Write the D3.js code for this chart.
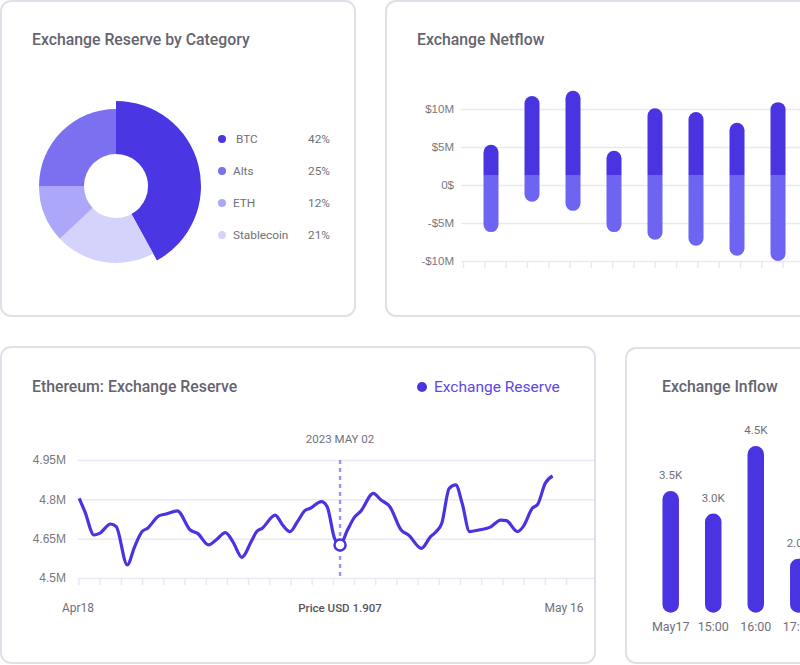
<!DOCTYPE html>
<html>
<head>
<meta charset="utf-8">
<script src="https://cdn.jsdelivr.net/npm/d3@7"></script>
<style>
	body { margin: 0; background: #fff; }
	svg { display: block; font-family: Roboto, "Noto Sans", sans-serif; }
	.title { font-size: 15.8px; fill: #64646f; font-weight: 500; }
	.lbl { font-size: 11.5px; fill: #707078; }
	.axis .domain { display: none; }
	.grid line { stroke: #e9e8f4; stroke-width: 1.5; }
	.grid text { font-size: 11.5px; fill: #777780; }
	.ticks line { stroke: #e9e8f4; stroke-width: 1.5; }
</style>
</head>
<body>
<svg id="chart" width="800" height="665"></svg>
<script>
// --- data ---
var categories = ['BTC', 'Alts', 'ETH', 'Stablecoin'];
var shares = [42, 25, 12, 21];
var pieOrder = ['BTC', 'Stablecoin', 'ETH', 'Alts'];

var netflowIn = [5.3, 11.7, 12.4, 4.5, 10.1, 9.6, 8.2, 10.9];
var netflowOut = [-6.2, -2.2, -3.4, -6.2, -7.2, -8.0, -9.3, -10.0];
var netflowSplit = 1.3;
var netflowTicks = [10, 5, 0, -5, -10];
var netflowTickLabels = ['$10M', '$5M', '0$', '-$5M', '-$10M'];

var reserveT = [0.03, 0.30, 0.73, 0.99, 1.52, 1.78, 2.30, 2.65, 3.00, 3.26, 3.79, 4.13, 4.66, 5.27, 5.62,
	6.14, 6.49, 6.93, 7.28, 7.71, 8.15, 8.41, 8.67, 9.28, 9.63, 9.98, 10.33, 10.68, 10.94, 11.46, 11.73,
	12.08, 12.34, 12.69, 13.04, 13.30, 13.91, 14.26, 14.69, 15.22, 15.57, 16.18, 16.61, 16.88, 17.14,
	17.49, 17.80, 18.10, 18.45, 18.88, 19.40, 19.93, 20.19, 20.71, 20.98, 21.41, 21.67, 22.02, 22.37];
var reserveValues = [4.804, 4.753, 4.664, 4.670, 4.706, 4.696, 4.550, 4.620, 4.677, 4.690, 4.737, 4.744, 4.756, 4.683, 4.670,
	4.626, 4.645, 4.673, 4.639, 4.579, 4.639, 4.677, 4.690, 4.740, 4.702, 4.677, 4.715, 4.757, 4.766, 4.791, 4.772,
	4.651, 4.626, 4.683, 4.734, 4.753, 4.823, 4.798, 4.772, 4.683, 4.664, 4.613, 4.658, 4.677, 4.709,
	4.842, 4.855, 4.785, 4.677, 4.683, 4.693, 4.721, 4.719, 4.677, 4.696, 4.766, 4.782, 4.861, 4.889];
var reserveTicks = [4.95, 4.8, 4.65, 4.5];
var reserveTickLabels = ['4.95M', '4.8M', '4.65M', '4.5M'];
var hoverIndex = 32;

var inflowLabels = ['May17', '15:00', '16:00', '17:00'];
var inflowValues = [3.5, 3.0, 4.5, 2.0];
var inflowValueLabels = ['3.5K', '3.0K', '4.5K', '2.0K'];

// --- colours ---
var dark = '#4a34e2';
var catColor = d3.scaleOrdinal().domain(categories)
	.range(['#4a36e2', '#7a70f0', '#aca7f8', '#d5d3fc']);

var svg = d3.select('#chart');

// cards
function card(x, y, w, h) {
	svg.append('rect')
		.attr('x', x).attr('y', y).attr('width', w).attr('height', h)
		.attr('rx', 10)
		.attr('fill', '#fff')
		.attr('stroke', '#e0e0e8')
		.attr('stroke-width', 2);
}
card(1, 1, 354, 315);
card(386, 1, 430, 315);
card(1, 347, 594, 316);
card(626, 348, 200, 315);

// rounded bar path, cap on top / bottom
function barPath(cx, y0, y1, w, topRound, botRound) {
	var r = w / 2, l = cx - r, rt = cx + r;
	var p = d3.path();
	if (topRound) { p.moveTo(l, y0 + r); p.arc(cx, y0 + r, r, Math.PI, 0); }
	else { p.moveTo(l, y0); p.lineTo(rt, y0); }
	if (botRound) { p.lineTo(rt, y1 - r); p.arc(cx, y1 - r, r, 0, Math.PI); }
	else { p.lineTo(rt, y1); p.lineTo(l, y1); }
	p.closePath();
	return p.toString();
}

// ---------- card 1: donut ----------
svg.append('text').attr('class', 'title').attr('x', 32).attr('y', 45)
	.text('Exchange Reserve by Category');

var pie = d3.pie().sort(null).value(function(d) { return shares[categories.indexOf(d)]; });
var donut = svg.append('g').attr('transform', 'translate(116,186)');
donut.selectAll('path')
	.data(pie(pieOrder))
.enter().append('path')
	.attr('d', function(d) {
		return d3.arc().innerRadius(32).outerRadius(d.data == 'BTC' ? 85 : 77)(d);
	})
	.attr('fill', function(d) { return catColor(d.data); });

var legend = svg.append('g').selectAll('g')
	.data(categories)
.enter().append('g')
	.attr('transform', function(d, i) { return 'translate(0,' + (139 + i * 32) + ')'; });
legend.append('circle').attr('cx', 222).attr('r', 4)
	.attr('fill', function(d) { return catColor(d); });
legend.append('text').attr('class', 'lbl').attr('x', function(d) { return d == 'BTC' ? 236 : 233; })
	.attr('dy', '0.35em').style('font-size', '11.8px').text(function(d) { return d; });
legend.append('text').attr('class', 'lbl').attr('x', 330).attr('text-anchor', 'end')
	.attr('dy', '0.35em').style('font-size', '11.8px').text(function(d, i) { return shares[i] + '%'; });

// ---------- card 2: netflow ----------
svg.append('text').attr('class', 'title').attr('x', 417).attr('y', 45).text('Exchange Netflow');

var yNet = d3.scaleLinear().domain([-10, 10]).range([261, 109]);
var xNet = d3.scalePoint().domain(d3.range(netflowIn.length)).range([491, 778]);

svg.append('g').attr('class', 'axis grid')
	.attr('transform', 'translate(461,0)')
	.call(d3.axisLeft(yNet).tickValues(netflowTicks).tickSize(-360).tickPadding(7)
		.tickFormat(function(d, i) { return netflowTickLabels[i]; }));

var xNetTick = d3.scaleLinear().domain([0, 16]).range([463, 804]);
svg.append('g').attr('class', 'axis ticks')
	.attr('transform', 'translate(0,261)')
	.call(d3.axisBottom(xNetTick).tickValues(d3.range(17)).tickSize(7).tickFormat(''));

var nf = svg.append('g').selectAll('g')
	.data(netflowIn)
.enter().append('g');
nf.append('path')
	.attr('d', function(d, i) { return barPath(xNet(i), yNet(netflowSplit), yNet(netflowOut[i]), 15, false, true); })
	.attr('fill', '#6d65f1');
nf.append('path')
	.attr('d', function(d, i) { return barPath(xNet(i), yNet(d), yNet(netflowSplit), 15, true, false); })
	.attr('fill', dark);

// ---------- card 3: reserve line ----------
svg.append('text').attr('class', 'title').attr('x', 32).attr('y', 392)
	.text('Ethereum: Exchange Reserve');
svg.append('circle').attr('cx', 422).attr('cy', 387).attr('r', 5).attr('fill', dark);
svg.append('text').attr('x', 434).attr('y', 392)
	.style('font-size', '15.5px').style('fill', '#5a48e6')
	.text('Exchange Reserve');

var yRes = d3.scaleLinear().domain([4.5, 4.95]).range([578, 460]);
var xRes = d3.scaleLinear().domain([0, 23]).range([78.5, 566]);

svg.append('g').attr('class', 'axis grid')
	.attr('transform', 'translate(78,0)')
	.call(d3.axisLeft(yRes).tickValues(reserveTicks).tickSize(-516).tickPadding(12)
		.tickFormat(function(d, i) { return reserveTickLabels[i]; }))
	.selectAll('text').style('font-size', '12px');

svg.append('g').attr('class', 'axis ticks')
	.attr('transform', 'translate(0,578)')
	.call(d3.axisBottom(xRes).tickValues(d3.range(24)).tickSize(7).tickFormat(''));

var hx = xRes(reserveT[hoverIndex]);
svg.append('line')
	.attr('x1', hx).attr('x2', hx).attr('y1', 460).attr('y2', 578)
	.attr('stroke', '#9c95f2').attr('stroke-width', 2.5).attr('stroke-dasharray', '4,4');

var line = d3.line()
	.x(function(d, i) { return xRes(reserveT[i]); })
	.y(function(d) { return yRes(d); })
	.curve(d3.curveMonotoneX);
svg.append('path').datum(reserveValues)
	.attr('d', line)
	.attr('fill', 'none')
	.attr('stroke', dark)
	.attr('stroke-width', 3.2)
	.attr('stroke-linejoin', 'round');

svg.append('circle')
	.attr('cx', hx).attr('cy', yRes(reserveValues[hoverIndex])).attr('r', 5.5)
	.attr('fill', '#fff').attr('stroke', dark).attr('stroke-width', 2.5);

svg.append('text').attr('class', 'lbl').attr('x', hx).attr('y', 443)
	.attr('text-anchor', 'middle').text('2023 MAY 02');
svg.append('text').attr('class', 'lbl').attr('x', 78).attr('y', 612)
	.attr('text-anchor', 'middle').style('font-size', '12px').text('Apr18');
svg.append('text').attr('class', 'lbl').attr('x', hx).attr('y', 612)
	.attr('text-anchor', 'middle').style('fill', '#55555d').style('font-weight', 500)
	.text('Price USD 1.907');
svg.append('text').attr('class', 'lbl').attr('x', 564).attr('y', 612)
	.attr('text-anchor', 'middle').style('font-size', '12px').text('May 16');

// ---------- card 4: inflow ----------
svg.append('text').attr('class', 'title').attr('x', 662).attr('y', 392).text('Exchange Inflow');

var xIn = d3.scalePoint().domain(inflowLabels).range([670.7, 798.3]);
var yIn = d3.scaleLinear().domain([0.8, 4.5]).range([612.7, 446]);

var inf = svg.append('g').selectAll('g')
	.data(inflowValues)
.enter().append('g');
inf.append('path')
	.attr('d', function(d, i) { return barPath(xIn(inflowLabels[i]), yIn(d), yIn.range()[0], 16.5, true, true); })
	.attr('fill', dark);
inf.append('text').attr('class', 'lbl')
	.attr('x', function(d, i) { return xIn(inflowLabels[i]); })
	.attr('y', function(d) { return yIn(d) - 12; })
	.attr('text-anchor', 'middle')
	.text(function(d, i) { return inflowValueLabels[i]; });
inf.append('text').attr('class', 'lbl')
	.attr('x', function(d, i) { return xIn(inflowLabels[i]); })
	.attr('y', 631)
	.attr('text-anchor', 'middle')
	.style('font-size', '12.5px')
	.text(function(d, i) { return inflowLabels[i]; });
</script>
</body>
</html>
